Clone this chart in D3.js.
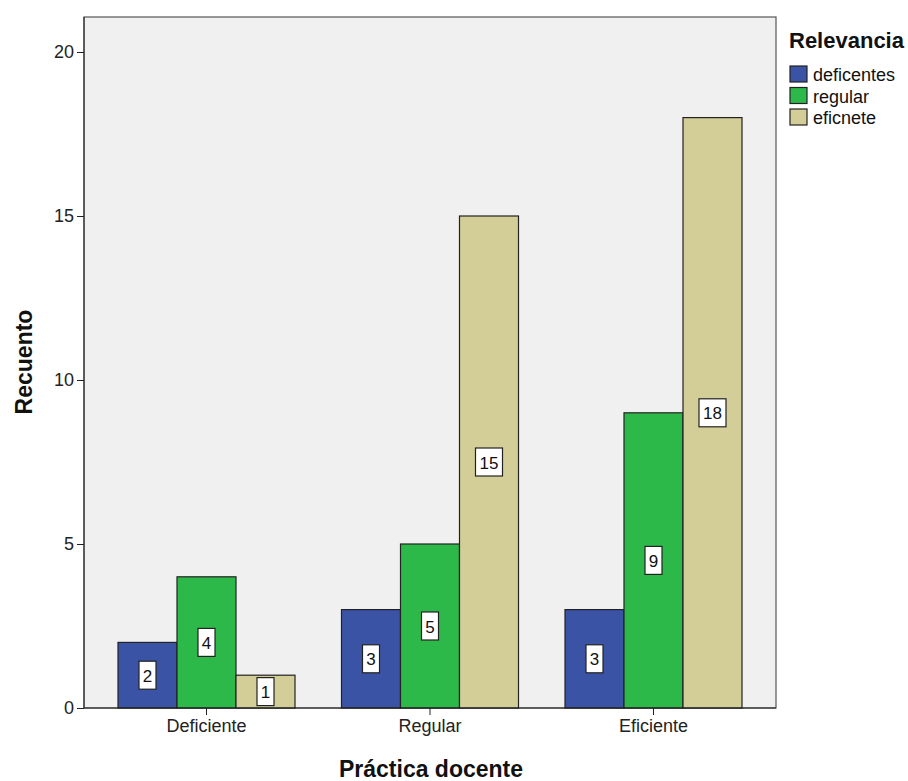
<!DOCTYPE html>
<html><head><meta charset="utf-8">
<script src="https://cdn.jsdelivr.net/npm/d3@7"></script>
<style>body{margin:0;background:#fff;} text{font-family:Arial,"Liberation Sans",sans-serif;}</style>
</head><body><svg id="c" width="908" height="781"></svg>
<script>
const categories = ["Deficiente", "Regular", "Eficiente"];
const seriesNames = ["deficentes", "regular", "eficnete"];
const deficentes = [2, 3, 3];
const regular = [4, 5, 9];
const eficnete = [1, 15, 18];
const yTicks = [0, 5, 10, 15, 20];
const colors = ["#3a53a4", "#2db84a", "#d3ce97"];

const series = [deficentes, regular, eficnete];
const svg = d3.select("#c");
const L = 84, R = 776, T = 17, B = 708;
const FF = "Arial, 'Liberation Sans', sans-serif";
const x0 = d3.scaleBand().domain(categories).range([94.75, 765.25]).padding(0);
const groupW = 177;
const xs = d3.scaleBand().domain(seriesNames).range([0, groupW]);
const y = d3.scaleLinear().domain([0, 20]).range([B, 52]);

svg.append("rect").attr("x", L).attr("y", T).attr("width", R - L).attr("height", B - T)
  .attr("fill", "#f0f0f0").attr("stroke", "#555").attr("stroke-width", 1.2);

categories.forEach((c, i) => {
  const cx = x0(c) + x0.bandwidth() / 2;
  series.forEach((s, j) => {
    const bx = cx - groupW / 2 + xs(seriesNames[j]);
    svg.append("rect").attr("x", bx).attr("y", y(s[i])).attr("width", xs.bandwidth())
      .attr("height", y(0) - y(s[i])).attr("fill", colors[j]).attr("stroke", "#222").attr("stroke-width", 1.2);
  });
});

// y axis
const yAxis = d3.axisLeft(y).tickValues(yTicks).tickSize(7).tickPadding(3);
const gy = svg.append("g").attr("transform", `translate(${L},0)`).call(yAxis);
gy.select(".domain").attr("stroke", "#222").attr("d", `M0,${T}V${B}`);
gy.selectAll("line").attr("stroke", "#222");
gy.selectAll("text").attr("font-size", 18).attr("fill", "#222").style("font-family", FF);

// x axis
const xAxis = d3.axisBottom(x0).tickSize(7).tickPadding(4);
const gx = svg.append("g").attr("transform", `translate(0,${B})`).call(xAxis);
gx.select(".domain").attr("stroke", "#222").attr("d", `M${L},0H${R}`);
gx.selectAll("line").attr("stroke", "#222");
gx.selectAll("text").attr("font-size", 18).attr("fill", "#222").style("font-family", FF);

// value labels
categories.forEach((c, i) => {
  const cx = x0(c) + x0.bandwidth() / 2;
  series.forEach((s, j) => {
    const bx = cx - groupW / 2 + xs(seriesNames[j]) + xs.bandwidth() / 2;
    const my = (y(s[i]) + y(0)) / 2;
    const txt = String(s[i]);
    const w = txt.length > 1 ? 27 : 17, h = 28;
    svg.append("rect").attr("x", bx - w / 2).attr("y", my - h / 2).attr("width", w).attr("height", h)
      .attr("fill", "#fff").attr("stroke", "#222").attr("stroke-width", 1.2);
    svg.append("text").attr("x", bx).attr("y", my + 6.5).attr("text-anchor", "middle")
      .attr("font-size", 17).attr("fill", "#111").text(txt);
  });
});

// axis titles
svg.append("text").attr("transform", "translate(32,362) rotate(-90)").attr("text-anchor", "middle")
  .attr("font-size", 23).attr("font-weight", "bold").attr("fill", "#111").text("Recuento");
svg.append("text").attr("x", 431).attr("y", 777).attr("text-anchor", "middle")
  .attr("font-size", 23).attr("font-weight", "bold").attr("fill", "#111").text("Práctica docente");

// legend
svg.append("text").attr("x", 789).attr("y", 48).attr("font-size", 22).attr("font-weight", "bold")
  .attr("fill", "#111").text("Relevancia");
seriesNames.forEach((n, j) => {
  const ly = 66 + j * 21.5;
  svg.append("rect").attr("x", 790).attr("y", ly).attr("width", 17).attr("height", 16)
    .attr("fill", colors[j]).attr("stroke", "#222").attr("stroke-width", 1.2);
  svg.append("text").attr("x", 813).attr("y", ly + 15).attr("font-size", 18).attr("fill", "#111").text(n);
});
</script></body></html>
